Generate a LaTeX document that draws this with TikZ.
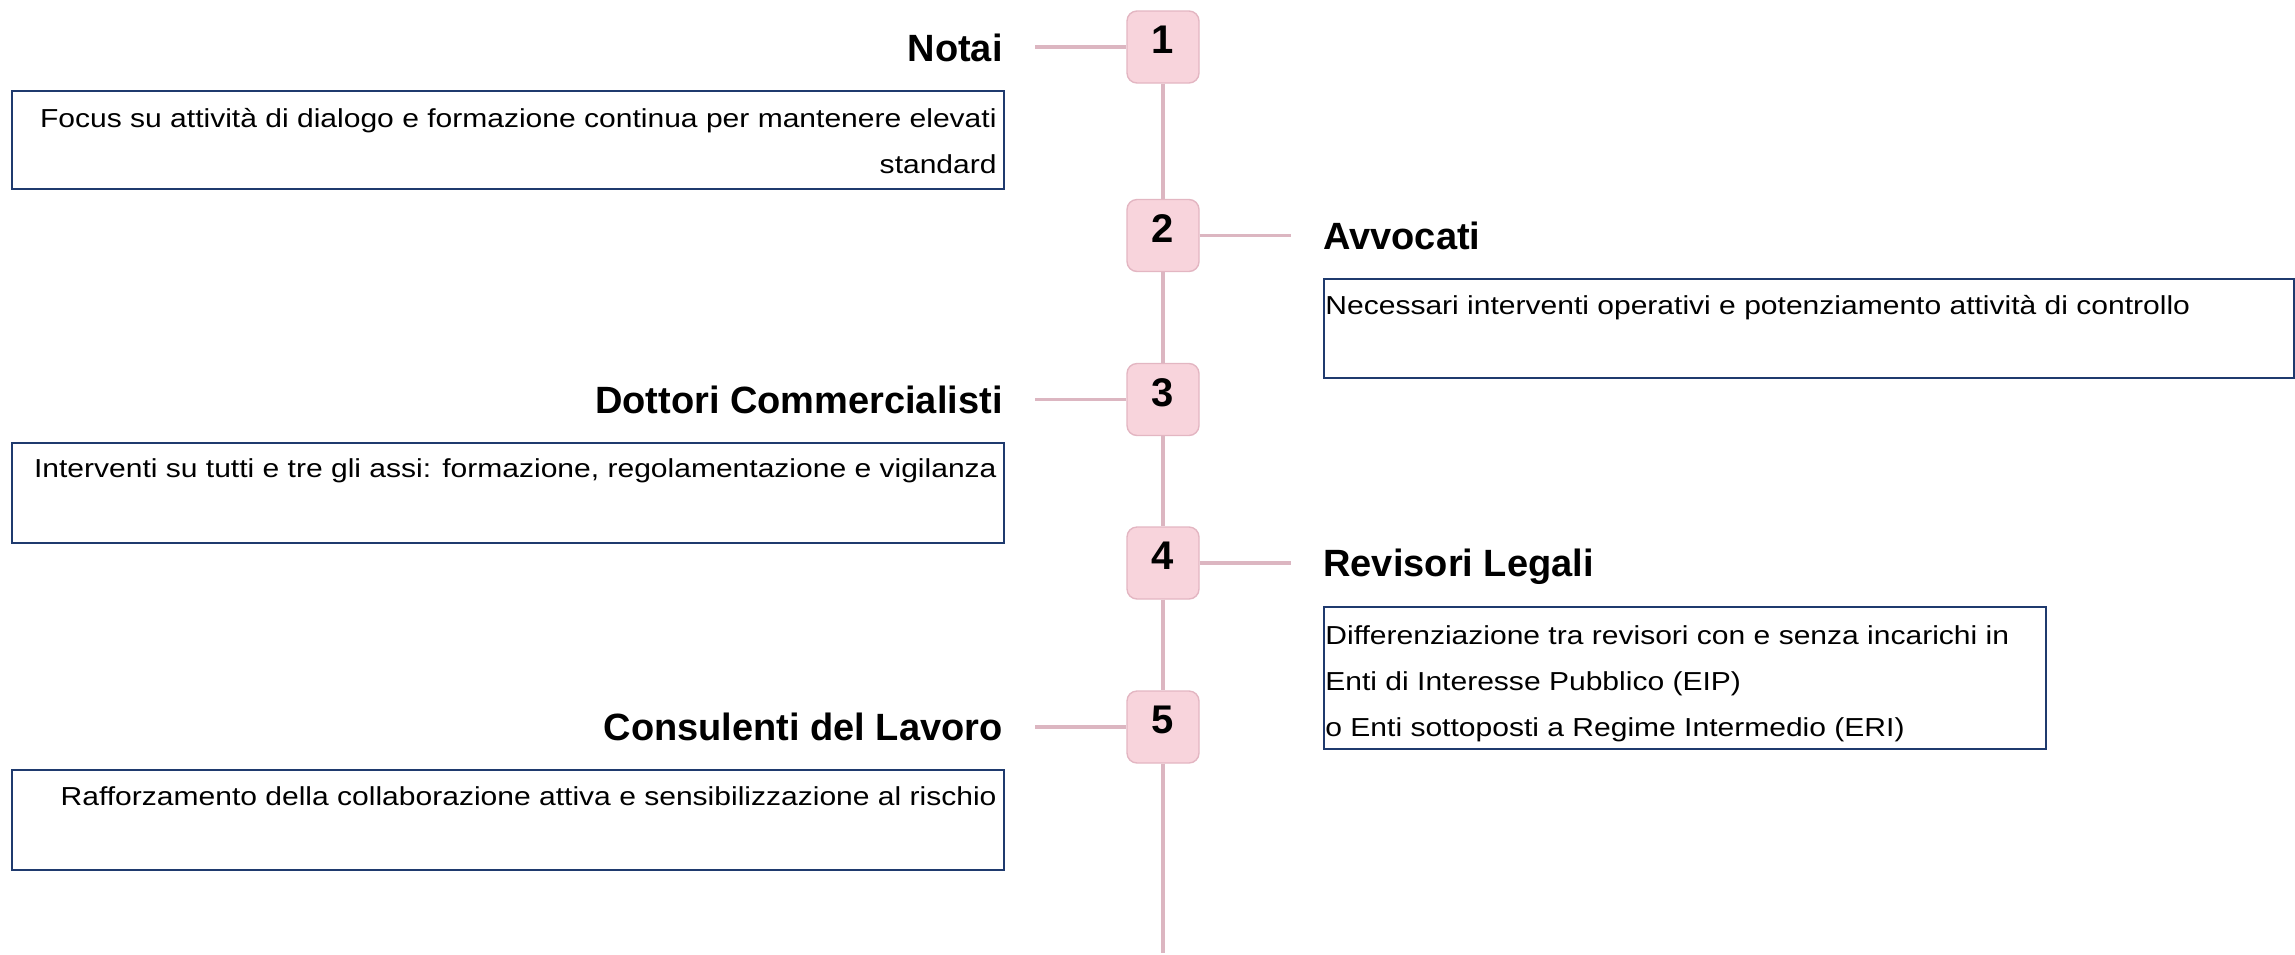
\documentclass[tikz,border=0pt]{standalone}
\usepackage{fontspec}
\setmainfont{Liberation Sans}
\newfontfamily\bodyfont{Liberation Sans}[FakeStretch=1.155]
\definecolor{pinkfill}{HTML}{F8D4DC}
\definecolor{pinkedge}{HTML}{E3B6C2}
\definecolor{pinkline}{HTML}{DCB6C1}
\definecolor{navy}{HTML}{1F3A6E}
\begin{document}
\begin{tikzpicture}[x=0.5pt,y=-0.5pt,
  numbox/.style={draw=pinkedge, fill=pinkfill, line width=0.7pt, rounded corners=5pt,
    minimum width=36pt, minimum height=36pt, inner sep=0pt,
    text height=14.3pt, text depth=7.7pt,
    font=\fontsize{20}{24}\selectfont\bfseries},
  conn/.style={draw=pinkline, line width=1.6pt},
  headl/.style={anchor=base east, inner sep=0pt, font=\fontsize{19}{23}\selectfont\bfseries},
  headr/.style={anchor=base west, inner sep=0pt, font=\fontsize{19}{23}\selectfont\bfseries},
  descbox/.style={draw=navy, line width=1pt, inner sep=0pt, anchor=north west},
  desctext/.style={inner sep=0pt, font=\bodyfont\fontsize{13}{23}\selectfont},
]
\useasboundingbox (0,0) rectangle (2295,954);

% numbered steps
\node[numbox] (n1) at (1163,47) {1};
\node[numbox] (n2) at (1163,235.5) {2};
\node[numbox] (n3) at (1163,399.5) {3};
\node[numbox] (n4) at (1163,563) {4};
\node[numbox] (n5) at (1163,727) {5};
\coordinate (tend) at (1163,953);

% spine
\draw[conn] (n1) -- (n2);
\draw[conn] (n2) -- (n3);
\draw[conn] (n3) -- (n4);
\draw[conn] (n4) -- (n5);
\draw[conn] (n5) -- (tend);

% side connectors
\coordinate (c1) at (1035,47);
\coordinate (c2) at (1291,235.5);
\coordinate (c3) at (1035,399.5);
\coordinate (c4) at (1291,563);
\coordinate (c5) at (1035,727);
\draw[conn] (c1) -- (n1);
\draw[conn] (n2) -- (c2);
\draw[conn] (c3) -- (n3);
\draw[conn] (n4) -- (c4);
\draw[conn] (c5) -- (n5);

% headings
\node[headl] (h1) at (1003,61) {Notai};
\node[headr] (h2) at (1323,249) {Avvocati};
\node[headl] (h3) at (1003,413) {Dottori Commercialisti};
\node[headr] (h4) at (1323,576) {Revisori Legali};
\node[headl] (h5) at (1003,740) {Consulenti del Lavoro};

% description boxes (base anchor = baseline of last line)
\node[descbox, minimum width=496pt, minimum height=49pt] (b1) at (11,90) {};
\node[desctext, anchor=base east, align=right] (t1) at (997,173)
  {Focus su attività di dialogo e formazione continua per mantenere elevati\\standard};

\node[descbox, minimum width=485pt, minimum height=49.5pt] (b2) at (1323,278) {};
\node[desctext, anchor=base west, align=left] (t2) at (1325,314)
  {Necessari interventi operativi e potenziamento attività di controllo};

\node[descbox, minimum width=496pt, minimum height=50pt] (b3) at (11,442) {};
\node[desctext, anchor=base east, align=right] (t3) at (997,477)
  {Interventi su tutti e tre gli assi: formazione, regolamentazione e vigilanza};

\node[descbox, minimum width=361pt, minimum height=71pt] (b4) at (1323,606) {};
\node[desctext, anchor=base west, align=left] (t4) at (1325,736)
  {Differenziazione tra revisori con e senza incarichi in\\Enti di Interesse Pubblico (EIP)\\o Enti sottoposti a Regime Intermedio (ERI)};

\node[descbox, minimum width=496pt, minimum height=50pt] (b5) at (11,769) {};
\node[desctext, anchor=base east, align=right] (t5) at (997,805)
  {Rafforzamento della collaborazione attiva e sensibilizzazione al rischio};
\end{tikzpicture}
\end{document}
